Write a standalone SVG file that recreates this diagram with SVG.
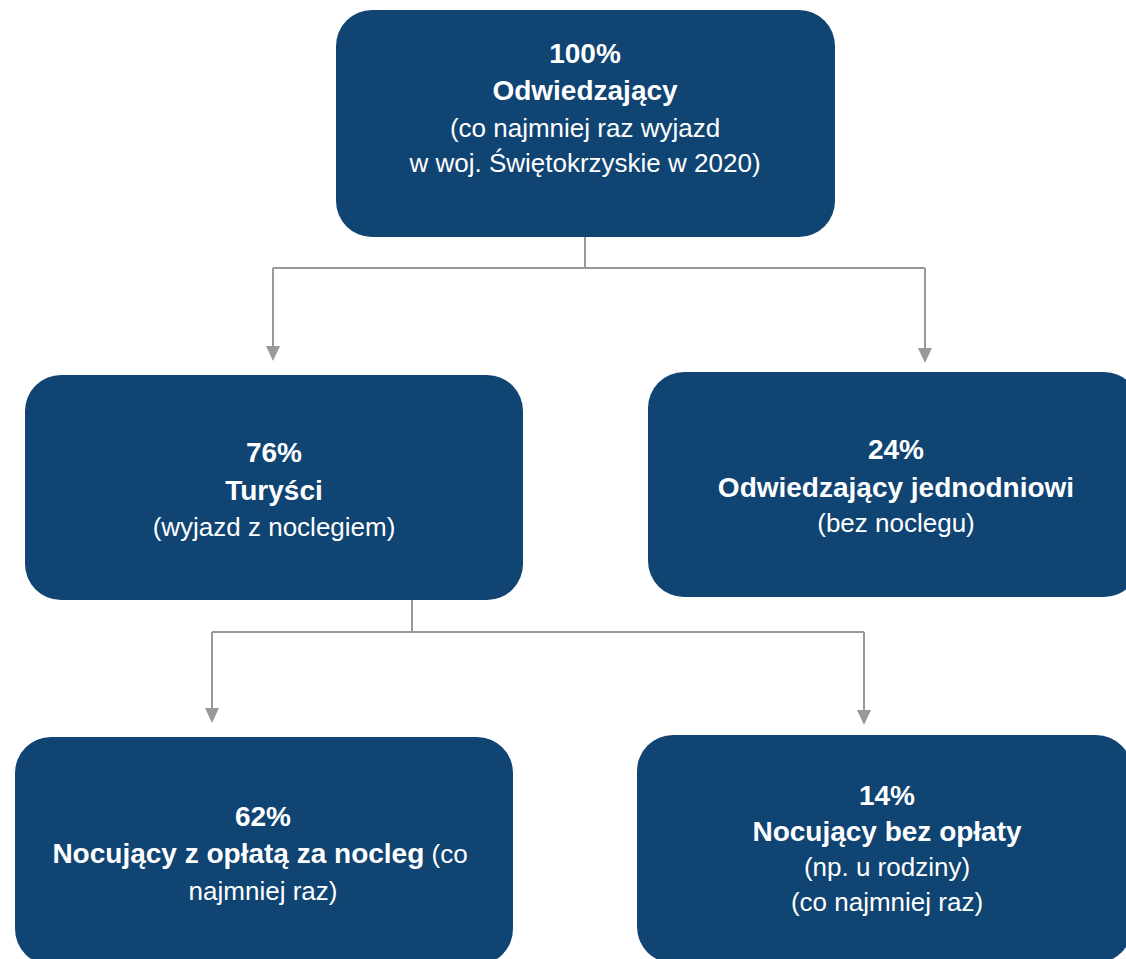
<svg xmlns="http://www.w3.org/2000/svg" width="1126" height="959" viewBox="0 0 1126 959">
<style>
.box{fill:#104473;}
text{font-family:"Liberation Sans",Arial,sans-serif;fill:#ffffff;text-anchor:middle;}
.b{font-weight:bold;font-size:28px;}
.r{font-size:26px;}
.con{fill:none;stroke:#999999;stroke-width:2;}
</style>
<defs>
<marker id="arr" markerWidth="8" markerHeight="8" refX="7" refY="4" orient="auto" markerUnits="userSpaceOnUse" viewBox="0 0 8 8">
<path d="M0,0 L8,4 L0,8 Z" fill="#999999"/>
</marker>
</defs>
<g id="connectors">
<path class="con" d="M585,237 V268 M273,268 H925"/>
<line class="con" x1="273" y1="268" x2="273" y2="346"/>
<line class="con" x1="925" y1="268" x2="925" y2="348"/>
<path d="M266,346 L280,346 L273,361 Z" fill="#999999"/>
<path d="M918,348 L932,348 L925,363 Z" fill="#999999"/>
<path class="con" d="M412,600 V632 M212,632 H864"/>
<line class="con" x1="212" y1="632" x2="212" y2="708"/>
<line class="con" x1="864" y1="632" x2="864" y2="710"/>
<path d="M205,708 L219,708 L212,723 Z" fill="#999999"/>
<path d="M857,710 L871,710 L864,725 Z" fill="#999999"/>
</g>
<g id="node-visitors">
<rect class="box" x="336" y="10" width="499" height="227" rx="36"/>
<text class="b" x="585" y="63">100%</text>
<text class="b" x="585" y="100">Odwiedzający</text>
<text class="r" x="585" y="137">(co najmniej raz wyjazd</text>
<text class="r" x="585" y="172">w woj. Świętokrzyskie w 2020)</text>
</g>
<g id="node-tourists">
<rect class="box" x="25" y="375" width="498" height="225" rx="36"/>
<text class="b" x="274" y="462">76%</text>
<text class="b" x="274" y="500">Turyści</text>
<text class="r" x="274" y="536">(wyjazd z noclegiem)</text>
</g>
<g id="node-daytrippers">
<rect class="box" x="648" y="372" width="492" height="225" rx="36"/>
<text class="b" x="896" y="459">24%</text>
<text class="b" x="896" y="497">Odwiedzający jednodniowi</text>
<text class="r" x="896" y="532">(bez noclegu)</text>
</g>
<g id="node-paid">
<rect class="box" x="15" y="737" width="498" height="228" rx="36"/>
<text class="b" x="263" y="826">62%</text>
<text x="260" y="863"><tspan class="b">Nocujący z opłatą za nocleg</tspan><tspan class="r"> (co</tspan></text>
<text class="r" x="263" y="900">najmniej raz)</text>
</g>
<g id="node-free">
<rect class="box" x="637" y="735" width="495" height="228" rx="36"/>
<text class="b" x="887" y="805">14%</text>
<text class="b" x="887" y="841">Nocujący bez opłaty</text>
<text class="r" x="887" y="876">(np. u rodziny)</text>
<text class="r" x="887" y="911">(co najmniej raz)</text>
</g>
</svg>
